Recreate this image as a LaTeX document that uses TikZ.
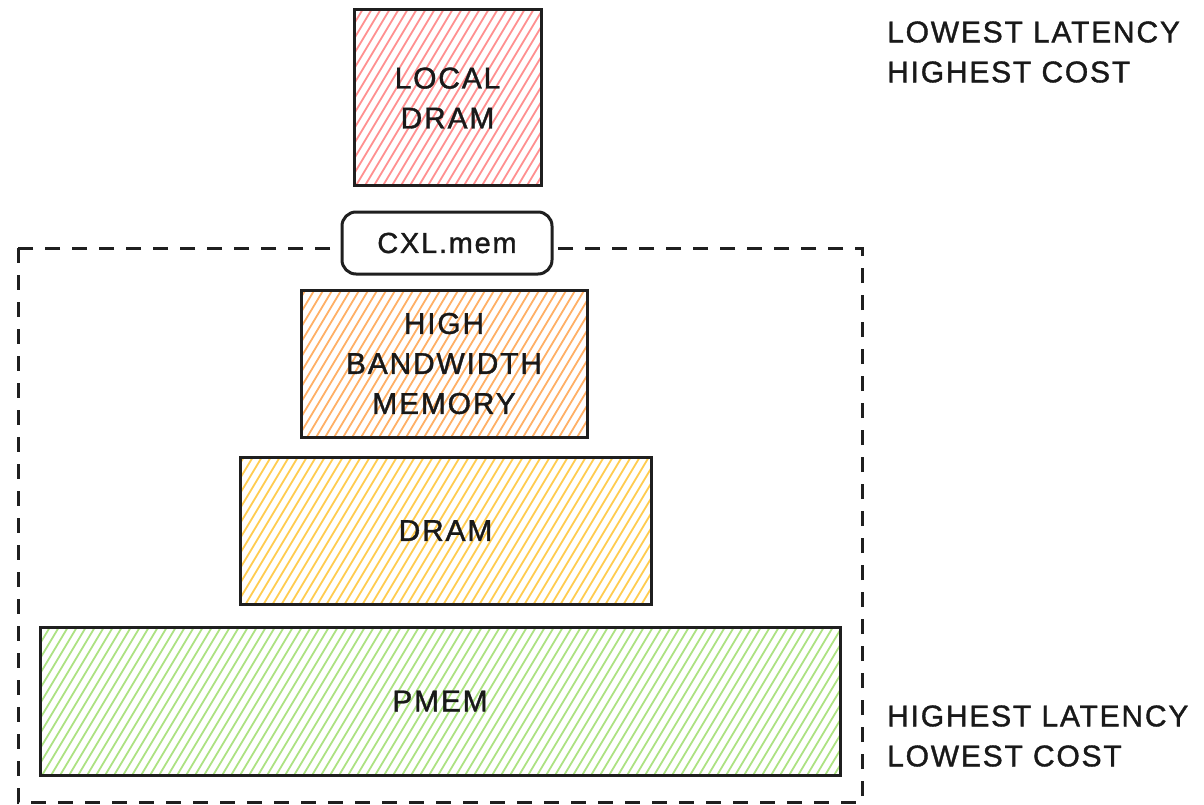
\documentclass[tikz,border=0pt]{standalone}
\usepackage{fontspec}
\setmainfont{Liberation Sans}[LetterSpace=6, FakeBold=1.2]
\begin{document}
\begin{tikzpicture}[x=1pt,y=-1pt,
  ink/.style={draw=black!88, line width=3pt},
  hatch/.style={path picture={
    \foreach \k in {-75,...,75}
      \draw[#1, line width=1.8pt]
        ([xshift=\k*9pt, yshift=-12pt]path picture bounding box.south)
        -- ++(120pt,200pt);
  }},
  tier/.style={ink, rectangle, inner sep=0pt, align=center,
    font=\fontsize{30}{40}\selectfont, text=black!90},
  sidenote/.style={align=left, inner sep=0pt,
    font=\fontsize{30}{40}\selectfont, text=black!90},
]
\definecolor{hatchred}{HTML}{FF9090}
\definecolor{hatchorange}{HTML}{FFB066}
\definecolor{hatchyellow}{HTML}{FFCC50}
\definecolor{hatchgreen}{HTML}{ADE283}

\useasboundingbox (0,0) rectangle (1204,805);

% memory reachable over CXL
\draw[ink, dash pattern=on 15pt off 12pt] (18,248) rectangle (862,802);

\node[tier, hatch=hatchred, minimum width=187pt, minimum height=176pt]
  (local) at (447.5,98) {LOCAL\\DRAM};

\node[ink, fill=white, rounded corners=14pt, minimum width=210pt,
  minimum height=62pt, inner sep=0pt, font=\fontsize{29}{36}\selectfont,
  text=black!90] (cxl) at (447,243) {CXL.mem};

\node[tier, hatch=hatchorange, minimum width=286pt, minimum height=147pt]
  (hbm) at (444,363.5) {HIGH\\BANDWIDTH\\MEMORY};

\node[tier, hatch=hatchyellow, minimum width=411pt, minimum height=147pt]
  (dram) at (445.5,530.5) {DRAM};

\node[tier, hatch=hatchgreen, minimum width=800pt, minimum height=148pt]
  (pmem) at (440,701) {PMEM};

\node[sidenote, anchor=west] (top) at (887,52) {LOWEST LATENCY\\HIGHEST COST};
\node[sidenote, anchor=west] (bottom) at (887,736) {HIGHEST LATENCY\\LOWEST COST};
\end{tikzpicture}
\end{document}
